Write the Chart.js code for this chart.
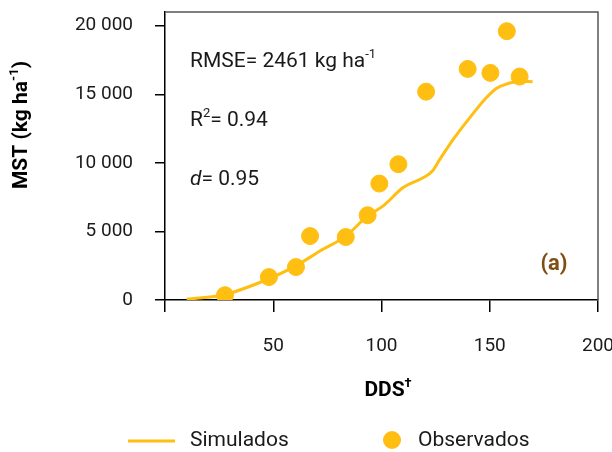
<!DOCTYPE html>
<html>
<head>
<meta charset="utf-8">
<script src="https://cdn.jsdelivr.net/npm/chart.js@4"></script>
<style>
  html, body { margin: 0; padding: 0; background: #fff; }
  #wrap { width: 612px; height: 452px; }
</style>
</head>
<body>
<div id="wrap"><canvas id="chart" width="612" height="452"></canvas></div>
<script>
// --- Data ---
const ddsSim = [10, 27.7, 48, 60.2, 71.6, 83.5, 93.6, 100.8, 110, 119.4, 123.5, 127, 133.2, 140.9, 148.6, 153.2, 157.8, 164, 169.8];
const mstSim = [50, 400, 1550, 2470, 3570, 4660, 6130, 6860, 8200, 8930, 9400, 10270, 11730, 13320, 14780, 15440, 15750, 15950, 15920];

const ddsObs = [27.7, 48, 60.5, 67, 83.5, 93.6, 99, 107.8, 120.6, 139.8, 150.3, 157.9, 163.8];
const mstObs = [350, 1670, 2400, 4660, 4590, 6180, 8490, 9900, 15190, 16850, 16560, 19600, 16290];

const xTicks = [0, 50, 100, 150, 200];
const yTicks = [0, 5000, 10000, 15000, 20000];

const legendLabels = ['Simulados', 'Observados'];
const xTitle = [{ t: 'DDS' }, { t: '\u2020', sup: true }];
const yTitle = [{ t: 'MST (kg ha' }, { t: '-1', sup: true }, { t: ')' }];
const statLines = [
  [{ t: 'RMSE= 2461 kg ha' }, { t: '-1', sup: true }],
  [{ t: 'R' }, { t: '2', sup: true }, { t: '= 0.94' }],
  [{ t: 'd', it: true }, { t: '= 0.95' }]
];

const GOLD = '#FFBE12';
const FONT = 'Roboto, "Noto Sans", sans-serif';

function fmtThousands(v) {
  return String(v).replace(/\B(?=(\d{3})+(?!\d))/g, ' ');
}

function partFont(p, size, weight) {
  const s = p.sup ? Math.round(size * 0.6) : size;
  return (p.it ? 'italic ' : '') + (weight || '') + ' ' + s + 'px ' + FONT;
}

// draws a line of text pieces, with superscripts / italics
function drawRich(ctx, parts, x, y, size, weight, center) {
  ctx.textBaseline = 'middle';
  ctx.textAlign = 'left';
  if (center) {
    let w = 0;
    parts.forEach(p => { ctx.font = partFont(p, size, weight); w += ctx.measureText(p.t).width; });
    x -= w / 2;
  }
  parts.forEach(p => {
    ctx.font = partFont(p, size, weight);
    ctx.fillText(p.t, x, p.sup ? y - size * 0.35 : y);
    x += ctx.measureText(p.t).width;
  });
}

const extras = {
  id: 'extras',
  afterDraw(chart) {
    const { ctx, chartArea: a } = chart;
    ctx.save();
    // frame on top / right
    ctx.strokeStyle = '#555';
    ctx.lineWidth = 1.5;
    ctx.beginPath();
    ctx.moveTo(a.left, a.top);
    ctx.lineTo(a.right, a.top);
    ctx.lineTo(a.right, a.bottom);
    ctx.stroke();

    // axis titles
    ctx.fillStyle = '#000';
    drawRich(ctx, xTitle, 388, 391, 21, 'bold', true);
    ctx.save();
    ctx.translate(22, 125);
    ctx.rotate(-Math.PI / 2);
    drawRich(ctx, yTitle, 0, 0, 21, 'bold', true);
    ctx.restore();

    // statistics
    ctx.fillStyle = '#1a1a1a';
    statLines.forEach((parts, i) => drawRich(ctx, parts, 190, 62 + i * 59, 21));

    // panel tag
    ctx.fillStyle = '#7F4E12';
    ctx.font = 'bold 22px ' + FONT;
    ctx.textAlign = 'center';
    ctx.textBaseline = 'middle';
    ctx.fillText('(a)', 554, 264);

    // legend
    const ly = 441;
    ctx.strokeStyle = GOLD;
    ctx.lineWidth = 3;
    ctx.beginPath();
    ctx.moveTo(128, ly);
    ctx.lineTo(175, ly);
    ctx.stroke();
    ctx.fillStyle = GOLD;
    ctx.beginPath();
    ctx.arc(392, ly - 1, 9, 0, Math.PI * 2);
    ctx.fill();
    ctx.fillStyle = '#1a1a1a';
    ctx.font = '21px ' + FONT;
    ctx.textAlign = 'left';
    ctx.fillText(legendLabels[0], 190, ly);
    ctx.fillText(legendLabels[1], 418, ly);
    ctx.restore();
  }
};

function noPad(s) {
  s.paddingTop = 0;
  s.paddingBottom = 0;
  s.paddingLeft = 0;
  s.paddingRight = 0;
}

new Chart(document.getElementById('chart'), {
  type: 'scatter',
  data: {
    datasets: [
      {
        label: legendLabels[1],
        data: ddsObs.map((x, i) => ({ x, y: mstObs[i] })),
        backgroundColor: GOLD,
        borderColor: GOLD,
        pointRadius: 8.5,
        pointHoverRadius: 8.5,
        order: 0
      },
      {
        label: legendLabels[0],
        data: ddsSim.map((x, i) => ({ x, y: mstSim[i] })),
        showLine: true,
        borderColor: GOLD,
        borderWidth: 3,
        pointRadius: 0,
        cubicInterpolationMode: 'monotone',
        order: 1
      }
    ]
  },
  options: {
    responsive: false,
    animation: false,
    layout: { padding: { top: 12, right: 14, bottom: 52, left: 0 } },
    plugins: { legend: { display: false }, tooltip: { enabled: false } },
    scales: {
      x: {
        type: 'linear',
        min: 0,
        max: 200,
        afterBuildTicks: s => { s.ticks = xTicks.map(value => ({ value })); },
        afterFit: s => { s.height = 100; noPad(s); },
        ticks: {
          callback: v => (v === 0 ? '' : v),
          color: '#1a1a1a',
          font: { family: FONT, size: 19 },
          padding: 23,
          maxRotation: 0
        },
        grid: { drawOnChartArea: false, drawTicks: true, tickLength: 12, color: '#000', lineWidth: 1.5 },
        border: { color: '#000', width: 1.5 }
      },
      y: {
        min: 0,
        max: 21000,
        afterBuildTicks: s => { s.ticks = yTicks.map(value => ({ value })); },
        afterFit: s => { s.width = 165; noPad(s); },
        ticks: {
          callback: v => fmtThousands(v),
          color: '#1a1a1a',
          font: { family: FONT, size: 19 },
          padding: 22
        },
        grid: { drawOnChartArea: false, drawTicks: true, tickLength: 10, color: '#000', lineWidth: 1.5 },
        border: { color: '#000', width: 1.5 }
      }
    }
  },
  plugins: [extras]
});
</script>
</body>
</html>
